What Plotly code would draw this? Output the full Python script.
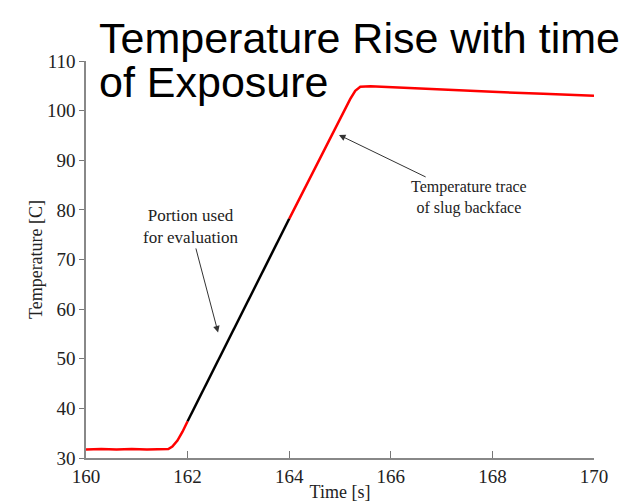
import plotly.graph_objects as go

# Data
pre_time = [160.0, 160.3, 160.6, 160.9, 161.2, 161.5, 161.62, 161.7, 161.8, 161.9, 162.0]
pre_temp = [31.7, 31.8, 31.7, 31.8, 31.7, 31.7, 31.8, 32.3, 33.5, 35.3, 37.4]

eval_time = [162.0, 162.5, 163.0, 163.5, 164.0]
eval_temp = [37.4, 47.6, 57.8, 67.9, 78.2]

post_time = [164.0, 164.5, 165.0, 165.2, 165.3, 165.4, 165.6, 166.0, 167.0, 168.0, 169.0, 170.0]
post_temp = [78.2, 88.3, 98.4, 102.3, 104.0, 104.8, 104.9, 104.7, 104.3, 103.8, 103.4, 103.0]

x_ticks = [160, 162, 164, 166, 168, 170]
y_ticks = [30, 40, 50, 60, 70, 80, 90, 100, 110]

fig = go.Figure()
fig.add_trace(go.Scatter(x=pre_time, y=pre_temp, mode="lines",
                         line=dict(color="#ff0000", width=2.5), showlegend=False))
fig.add_trace(go.Scatter(x=post_time, y=post_temp, mode="lines",
                         line=dict(color="#ff0000", width=2.5), showlegend=False))
fig.add_trace(go.Scatter(x=eval_time, y=eval_temp, mode="lines",
                         line=dict(color="#000000", width=2.5), showlegend=False))

serif = "Liberation Serif, Times New Roman, serif"
sans = "Liberation Sans, Arial, sans-serif"

W, H = 625, 494
L, R, T, B = 78, 39, 53, 44
plot_w = W - L - R
plot_h = H - T - B

fig.update_layout(
    width=W, height=H,
    margin=dict(l=L, r=R, t=T, b=B, autoexpand=False),
    paper_bgcolor="white", plot_bgcolor="white",
    font=dict(family=serif, size=18, color="#222222"),
    xaxis=dict(range=[160, 170], tickvals=x_ticks, ticks="inside", ticklen=7,
               tickcolor="#777777", showline=True, linecolor="#888888", linewidth=1.5,
               showgrid=False, zeroline=False, automargin=False,
               title=dict(text="Time [s]", font=dict(family=serif, size=18, color="#222222"),
                          standoff=2),
               tickfont=dict(family=serif, size=19, color="#222222")),
    yaxis=dict(range=[30, 110], tickvals=y_ticks, ticks="outside", ticklen=5,
               tickcolor="#777777", showline=True, linecolor="#888888", linewidth=1.5,
               showgrid=False, zeroline=False, automargin=False,
               title=dict(text="Temperature [C]", font=dict(family=serif, size=18, color="#222222"),
                          standoff=0),
               tickfont=dict(family=serif, size=19, color="#222222")),
)

# Title as two left-aligned lines of large sans text
fig.add_annotation(text="Temperature Rise with time",
                   xref="paper", yref="paper", x=(89 - L) / plot_w, y=(H - B - 30) / plot_h,
                   xanchor="left", yanchor="middle", align="left", showarrow=False,
                   font=dict(family=sans, size=43, color="#000000"))
fig.add_annotation(text="of Exposure",
                   xref="paper", yref="paper", x=(89 - L) / plot_w, y=(H - B - 74) / plot_h,
                   xanchor="left", yanchor="middle", align="left", showarrow=False,
                   font=dict(family=sans, size=43, color="#000000"))

fig.add_annotation(text="Portion used<br>for evaluation",
                   x=162.6, y=55.3, xref="x", yref="y",
                   ax=-28, ay=-106,
                   showarrow=True, arrowhead=2, arrowsize=1.3, arrowwidth=1, arrowcolor="#333333",
                   font=dict(family=serif, size=17, color="#222222"), align="center")

fig.add_annotation(text="Temperature trace<br>of slug backface",
                   x=164.98, y=95.1, xref="x", yref="y",
                   ax=130, ay=63,
                   showarrow=True, arrowhead=2, arrowsize=1.3, arrowwidth=1, arrowcolor="#333333",
                   font=dict(family=serif, size=16, color="#222222"), align="center")

fig.write_html("out.html")
